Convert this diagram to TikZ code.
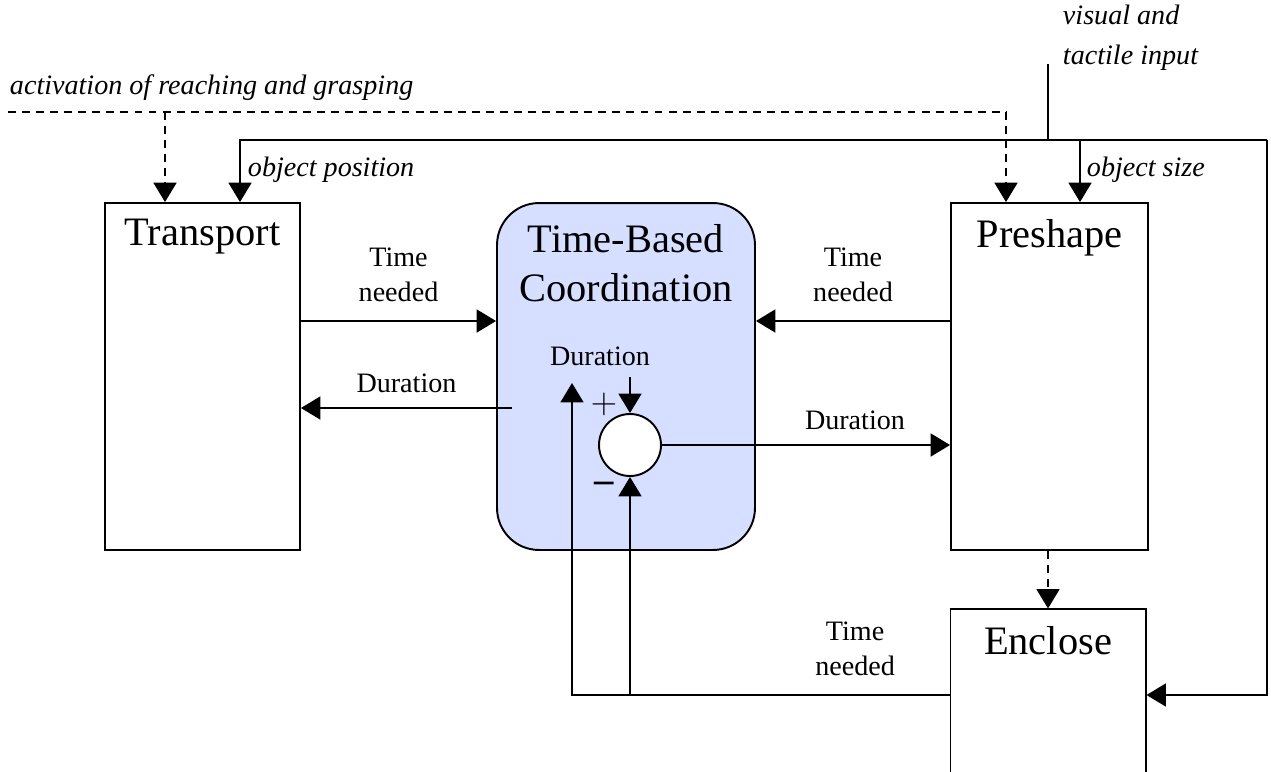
\documentclass[tikz,border=0pt]{standalone}
\usepackage{fontspec}
\setmainfont{Liberation Serif}
\usetikzlibrary{positioning,arrows.meta}
\definecolor{tbcblue}{RGB}{214,223,255}
\begin{document}
\begin{tikzpicture}
                [x=0.02cm,y=-0.02cm,line width=1.1pt,
                >={Triangle[length=11pt,width=13pt]},
                blk/.style={rectangle,draw,minimum width=3.9cm,minimum height=6.94cm},
                big/.style={font=\fontsize{23}{28}\selectfont,align=center,inner sep=0pt},
                lbl/.style={font=\fontsize{16}{20}\selectfont,align=center,inner sep=0pt},
                note/.style={font=\fontsize{16}{20}\selectfont\itshape,inner sep=0pt},
                dsh/.style={dash pattern=on 4.5pt off 3.5pt}]
                \useasboundingbox (0,0) rectangle (1271,771);
                \node[blk] (transport) at (202.5,376.5){};
                \node[big,node distance=0.33cm] (transporttxt)[below=of transport.north]{Transport};
                \node[blk,fill=tbcblue,rounded corners=0.84cm,minimum width=5.16cm] (tbc) at (626,376.5){};
                \node[big,node distance=0.42cm] (tbctxt)[below=of tbc.north]{Time-Based\\Coordination};
                \node[blk,minimum width=3.94cm] (preshape) at (1049.5,376.5){};
                \node[big,node distance=0.33cm] (preshapetxt)[below=of preshape.north]{Preshape};
                \node[blk,line width=0.6pt,minimum width=3.92cm,minimum height=3.44cm] (enclose) at (1048,695){};
                \node[big,node distance=0.33cm] (enclosetxt)[below=of enclose.north]{Enclose};
                \node[circle,draw,fill=white,minimum size=1.24cm,inner sep=0pt] (sum) at (630,445){};
                \node[lbl,font=\fontsize{22}{24}\selectfont] (plus) at (604,404){$+$};
                \node[lbl,font=\bfseries\fontsize{22}{24}\selectfont] (minus) at (604,487){--};
                % inputs from above
                \node[note,anchor=west] (acttxt) at (9,88){activation of reaching and grasping};
                \node[note,anchor=north west,align=left,font=\fontsize{16}{22.5}\selectfont\itshape] (vistxt) at (1062,4){visual and\\tactile input};
                \node[note,anchor=west] (postxt) at (247,170){object position};
                \node[note,anchor=west] (sizetxt) at (1086,170){object size};
                \coordinate (actL) at (8,112);
                \coordinate (actT) at (165,112);
                \coordinate (actR) at (1006,112);
                \coordinate (vis) at (1048,64);
                \coordinate (visJ) at (1048,140);
                \coordinate (posT) at (240,140);
                \coordinate (sizeT) at (1080,140);
                \coordinate (loopR) at (1267,140);
                \draw[dsh] (actL) -- (actR);
                \draw[dsh,->] (actT) -- (actT |- transport.north);
                \draw[dsh,->] (actR) -- (actR |- preshape.north);
                \draw (vis) -- (visJ);
                \draw[->] (loopR) -| (posT |- transport.north);
                \draw[->] (sizeT) -- (sizeT |- preshape.north);
                \draw[->] (loopR) |- (enclose.east);
                \draw[dsh,->] (preshape.south -| enclose.north) -- (enclose.north);
                % time needed / duration
                \draw[->] (transport.east |- 0,321) -- node[lbl,above=0.36cm]{Time\\needed} (tbc.west |- 0,321);
                \coordinate (durOut) at (512,408);
                \draw[->] (durOut) -- node[lbl,above=0.28cm]{Duration} (transport.east |- durOut);
                \draw[->] (preshape.west |- 0,321) -- node[lbl,above=0.36cm]{Time\\needed} (tbc.east |- 0,321);
                \draw[->] (sum.east) -- node[lbl,above=0.28cm,pos=0.67]{Duration} (preshape.west |- sum.east);
                \node[lbl] (durtxt) at (600,356){Duration};
                \coordinate (durUp) at (572,383);
                \draw[->] (enclose.west) -- node[lbl,above=0.36cm,pos=0.25]{Time\\needed} (durUp |- enclose.west) -- (durUp);
                \draw[->] (sum.south |- enclose.west) -- (sum.south);
                \draw[->] (sum.north |- 0,377) -- (sum.north);
            \end{tikzpicture}
\end{document}
